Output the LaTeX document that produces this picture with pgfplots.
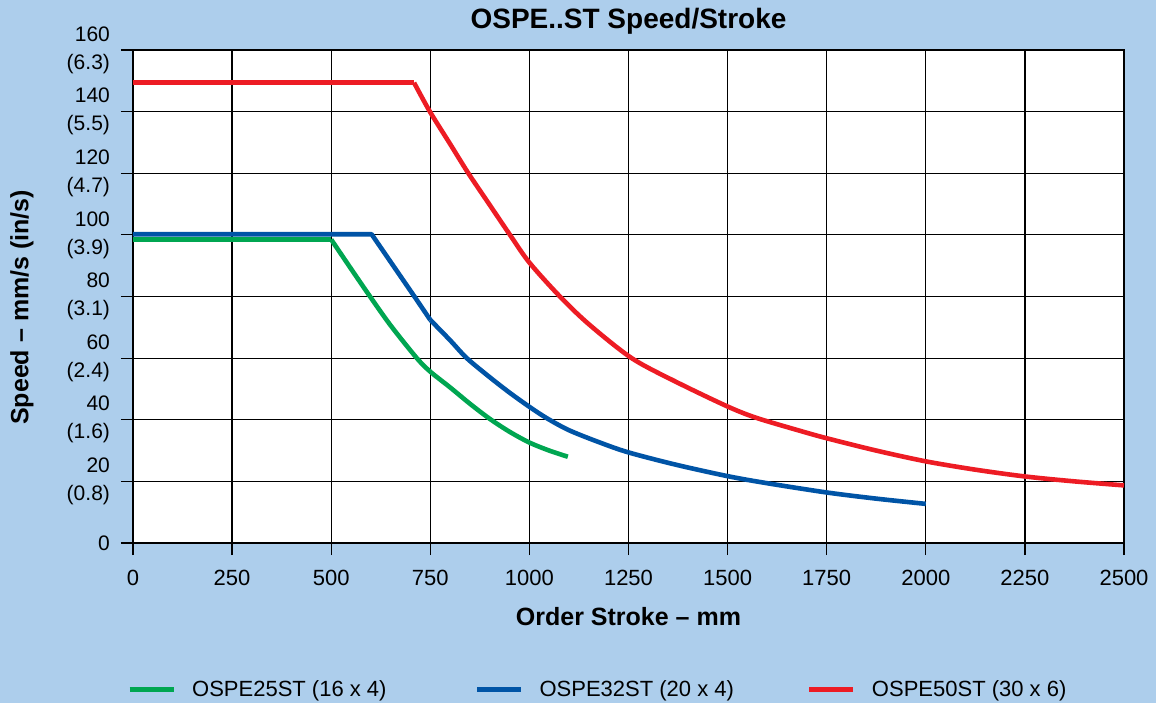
\documentclass[border=0pt]{standalone}
\usepackage{fontspec}
\setmainfont{Liberation Sans}
\usepackage{pgfplots}
\pgfplotsset{compat=1.18}
\definecolor{bg}{RGB}{173,206,236}
\definecolor{cgreen}{RGB}{0,166,81}
\definecolor{cblue}{RGB}{0,84,166}
\definecolor{cred}{RGB}{237,28,36}
\begin{document}
\begin{tikzpicture}
\path[use as bounding box, fill=bg] (-66.5pt,-80pt) rectangle (511.5pt,271.5pt);
\begin{axis}[
  at={(0,0)}, anchor=south west,
  scale only axis, width=495.5pt, height=246.5pt,
  xmin=0, xmax=2500, ymin=0, ymax=160,
  axis background/.style={fill=white},
  axis line style={black, line width=0.7pt},
  grid=major, major grid style={black, line width=0.6pt},
  xtick={0,250,...,2500},
  xticklabels={0,250,500,750,1000,1250,1500,1750,2000,2250,2500},
  ytick={0,20,...,160},
  yticklabels={{0},{20\\(0.8)},{40\\(1.6)},{60\\(2.4)},{80\\(3.1)},{100\\(3.9)},{120\\(4.7)},{140\\(5.5)},{160\\(6.3)}},
  tick align=outside, xtick pos=bottom, ytick pos=left,
  major tick length=6pt, tick style={black, line width=0.6pt},
  xticklabel style={font=\fontsize{11}{13}\selectfont, yshift=-4pt},
  yticklabel style={font=\fontsize{10.5}{14}\selectfont, align=right, xshift=-2pt},
  xlabel={Order Stroke -- mm},
  xlabel style={font=\bfseries\fontsize{12.5}{14}\selectfont, at={(axis description cs:0.5,-0.15)}, anchor=center},
  ylabel={Speed -- mm/s (in/s)},
  ylabel style={font=\bfseries\fontsize{12.5}{14}\selectfont, at={(axis description cs:-0.112,0.478)}, anchor=center, rotate=0},
  legend style={draw=none, fill=none, at={(axis description cs:0.470,-0.298)}, anchor=center,
    legend columns=-1, font=\fontsize{11}{13}\selectfont,
    /tikz/column 1/.style={column sep=6pt},
    /tikz/column 2/.style={column sep=42pt},
    /tikz/column 3/.style={column sep=6pt},
    /tikz/column 4/.style={column sep=34.5pt},
    /tikz/column 5/.style={column sep=6pt}},
  legend image code/.code={\draw[#1, line width=2.5pt] (0pt,0pt) -- (22pt,0pt);},
  every axis plot/.append style={line width=2.3pt, line join=round},
  clip mode=individual,
]
\addplot[cgreen, forget plot] coordinates {(0,98.5)(500,98.5)};
\addplot[cgreen, smooth] coordinates {
(500,98.5)(550,89)(598,80)(650,70.6)(716,60)(750,55.6)(800,50.5)(850,45.2)(900,40.3)(950,36.1)(1000,32.6)(1050,30)(1097,28)
};
\addlegendentry{OSPE25ST (16 x 4)}
\addplot[cblue, forget plot] coordinates {(0,100.2)(602,100.2)(711,79.8)(750,72.4)};
\addplot[cblue, smooth] coordinates {
(750,72.4)(800,65.8)(842,60)(900,53.8)(950,48.8)(1000,44.2)(1044,40.5)(1100,36.6)(1178,32.6)(1250,29.4)(1370,25.4)(1500,21.7)(1600,19.4)(1750,16.4)(1875,14.4)(2000,12.7)
};
\addlegendentry{OSPE32ST (20 x 4)}
\addplot[cred, forget plot] coordinates {(0,149.4)(709,149.4)};
\addplot[cred, smooth] coordinates {
(709,149.4)(749,140)(800,129.5)(846,120)(900,109.7)(951,100)(1000,91)(1077,80)(1150,71)(1258,60)(1370,52.3)(1500,44.3)(1573,40.6)(1683,36.4)(1750,34)(1875,30)(2000,26.5)(2125,23.8)(2250,21.6)(2375,20)(2500,18.7)
};
\addlegendentry{OSPE50ST (30 x 6)}
\node[font=\bfseries\fontsize{14}{16}\selectfont, anchor=center] at (axis description cs:0.5,1.0588) {OSPE..ST Speed/Stroke};
\end{axis}
\end{tikzpicture}
\end{document}
